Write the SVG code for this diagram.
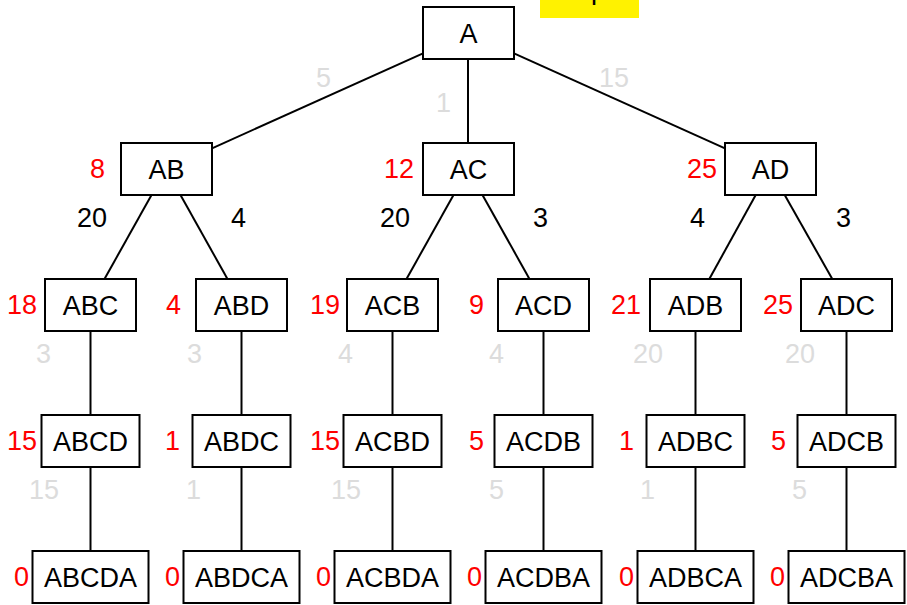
<svg xmlns="http://www.w3.org/2000/svg" width="907" height="605" viewBox="0 0 907 605">
  <style>
    text { font-family: "Liberation Sans", "DejaVu Sans", sans-serif; font-size: 27px; }
    .box { fill: #ffffff; stroke: #000000; stroke-width: 2; }
    .name { fill: #000000; text-anchor: middle; }
    .cost { fill: #ff0000; text-anchor: end; }
    .w { fill: #000000; }
    .g { fill: #dcdcdc; }
    .edge { stroke: #000000; stroke-width: 2; fill: none; }
  </style>
  <rect width="907" height="605" fill="#ffffff"/>

  <!-- legend tag, partly outside the top edge -->
  <g id="tag">
    <rect x="540" y="-30" width="99" height="48" fill="#fff200"/>
    <text x="589.5" y="-1" class="name">Step 1</text>
  </g>

  <!-- connectors -->
  <g id="edges">
    <line class="edge" x1="423" y1="53.3" x2="212" y2="148.3"/>
    <line class="edge" x1="468" y1="59" x2="468" y2="143"/>
    <line class="edge" x1="514" y1="53.3" x2="725" y2="148.3"/>
    <line class="edge" x1="151.5" y1="195" x2="104.5" y2="279"/>
    <line class="edge" x1="180.5" y1="195" x2="227.5" y2="279"/>
    <line class="edge" x1="453.5" y1="195" x2="406.5" y2="279"/>
    <line class="edge" x1="482.5" y1="195" x2="529.5" y2="279"/>
    <line class="edge" x1="755.7" y1="195" x2="709.3" y2="279"/>
    <line class="edge" x1="784.7" y1="195" x2="832.3" y2="279"/>
    <line class="edge" x1="90.5" y1="331" x2="90.5" y2="551"/>
    <line class="edge" x1="241.5" y1="331" x2="241.5" y2="551"/>
    <line class="edge" x1="392.5" y1="331" x2="392.5" y2="551"/>
    <line class="edge" x1="543.5" y1="331" x2="543.5" y2="551"/>
    <line class="edge" x1="695.5" y1="331" x2="695.5" y2="551"/>
    <line class="edge" x1="846.5" y1="331" x2="846.5" y2="551"/>
  </g>

  <!-- edge weights -->
  <g id="weights">
    <text class="g" x="316" y="87">5</text>
    <text class="g" x="436" y="112">1</text>
    <text class="g" x="599" y="87">15</text>
    <text class="w" x="77" y="227">20</text>
    <text class="w" x="231" y="227">4</text>
    <text class="w" x="380" y="227">20</text>
    <text class="w" x="533" y="227">3</text>
    <text class="w" x="690" y="227">4</text>
    <text class="w" x="836" y="227">3</text>
    <text class="g" x="36" y="363">3</text>
    <text class="g" x="187" y="363">3</text>
    <text class="g" x="338" y="363">4</text>
    <text class="g" x="489" y="363">4</text>
    <text class="g" x="633" y="363">20</text>
    <text class="g" x="785" y="363">20</text>
    <text class="g" x="29" y="499">15</text>
    <text class="g" x="186" y="499">1</text>
    <text class="g" x="331" y="499">15</text>
    <text class="g" x="489" y="499">5</text>
    <text class="g" x="640" y="499">1</text>
    <text class="g" x="792" y="499">5</text>
  </g>

  <!-- root -->
  <g id="n-A"><rect class="box" x="423" y="7" width="91" height="52"/><text class="name" x="468.5" y="43">A</text></g>

  <!-- level 1 -->
  <g id="n-AB"><rect class="box" x="121" y="143" width="91" height="52"/><text class="name" x="166.5" y="179">AB</text><text class="cost" x="105" y="178">8</text></g>
  <g id="n-AC"><rect class="box" x="423" y="143" width="91" height="52"/><text class="name" x="468.5" y="179">AC</text><text class="cost" x="414" y="178">12</text></g>
  <g id="n-AD"><rect class="box" x="725" y="143" width="91" height="52"/><text class="name" x="770.5" y="179">AD</text><text class="cost" x="717" y="178">25</text></g>

  <!-- level 2 -->
  <g id="n-ABC"><rect class="box" x="45" y="279" width="91" height="52"/><text class="name" x="90.5" y="315">ABC</text><text class="cost" x="37" y="314">18</text></g>
  <g id="n-ABD"><rect class="box" x="196" y="279" width="91" height="52"/><text class="name" x="241.5" y="315">ABD</text><text class="cost" x="181" y="314">4</text></g>
  <g id="n-ACB"><rect class="box" x="347" y="279" width="91" height="52"/><text class="name" x="392.5" y="315">ACB</text><text class="cost" x="340" y="314">19</text></g>
  <g id="n-ACD"><rect class="box" x="498" y="279" width="91" height="52"/><text class="name" x="543.5" y="315">ACD</text><text class="cost" x="484" y="314">9</text></g>
  <g id="n-ADB"><rect class="box" x="650" y="279" width="91" height="52"/><text class="name" x="695.5" y="315">ADB</text><text class="cost" x="641" y="314">21</text></g>
  <g id="n-ADC"><rect class="box" x="801" y="279" width="91" height="52"/><text class="name" x="846.5" y="315">ADC</text><text class="cost" x="793" y="314">25</text></g>

  <!-- level 3 -->
  <g id="n-ABCD"><rect class="box" x="41.5" y="415" width="98" height="52"/><text class="name" x="90.5" y="451">ABCD</text><text class="cost" x="37" y="450">15</text></g>
  <g id="n-ABDC"><rect class="box" x="192.5" y="415" width="98" height="52"/><text class="name" x="241.5" y="451">ABDC</text><text class="cost" x="180" y="450">1</text></g>
  <g id="n-ACBD"><rect class="box" x="343.5" y="415" width="98" height="52"/><text class="name" x="392.5" y="451">ACBD</text><text class="cost" x="340" y="450">15</text></g>
  <g id="n-ACDB"><rect class="box" x="494.5" y="415" width="98" height="52"/><text class="name" x="543.5" y="451">ACDB</text><text class="cost" x="484" y="450">5</text></g>
  <g id="n-ADBC"><rect class="box" x="646.5" y="415" width="98" height="52"/><text class="name" x="695.5" y="451">ADBC</text><text class="cost" x="634" y="450">1</text></g>
  <g id="n-ADCB"><rect class="box" x="797.5" y="415" width="98" height="52"/><text class="name" x="846.5" y="451">ADCB</text><text class="cost" x="786" y="450">5</text></g>

  <!-- level 4 -->
  <g id="n-ABCDA"><rect class="box" x="32.5" y="551" width="116" height="52"/><text class="name" x="90.5" y="587">ABCDA</text><text class="cost" x="29" y="586">0</text></g>
  <g id="n-ABDCA"><rect class="box" x="183.5" y="551" width="116" height="52"/><text class="name" x="241.5" y="587">ABDCA</text><text class="cost" x="180" y="586">0</text></g>
  <g id="n-ACBDA"><rect class="box" x="334.5" y="551" width="116" height="52"/><text class="name" x="392.5" y="587">ACBDA</text><text class="cost" x="331" y="586">0</text></g>
  <g id="n-ACDBA"><rect class="box" x="485.5" y="551" width="116" height="52"/><text class="name" x="543.5" y="587">ACDBA</text><text class="cost" x="482" y="586">0</text></g>
  <g id="n-ADBCA"><rect class="box" x="637.5" y="551" width="116" height="52"/><text class="name" x="695.5" y="587">ADBCA</text><text class="cost" x="634" y="586">0</text></g>
  <g id="n-ADCBA"><rect class="box" x="788.5" y="551" width="116" height="52"/><text class="name" x="846.5" y="587">ADCBA</text><text class="cost" x="785" y="586">0</text></g>
</svg>
